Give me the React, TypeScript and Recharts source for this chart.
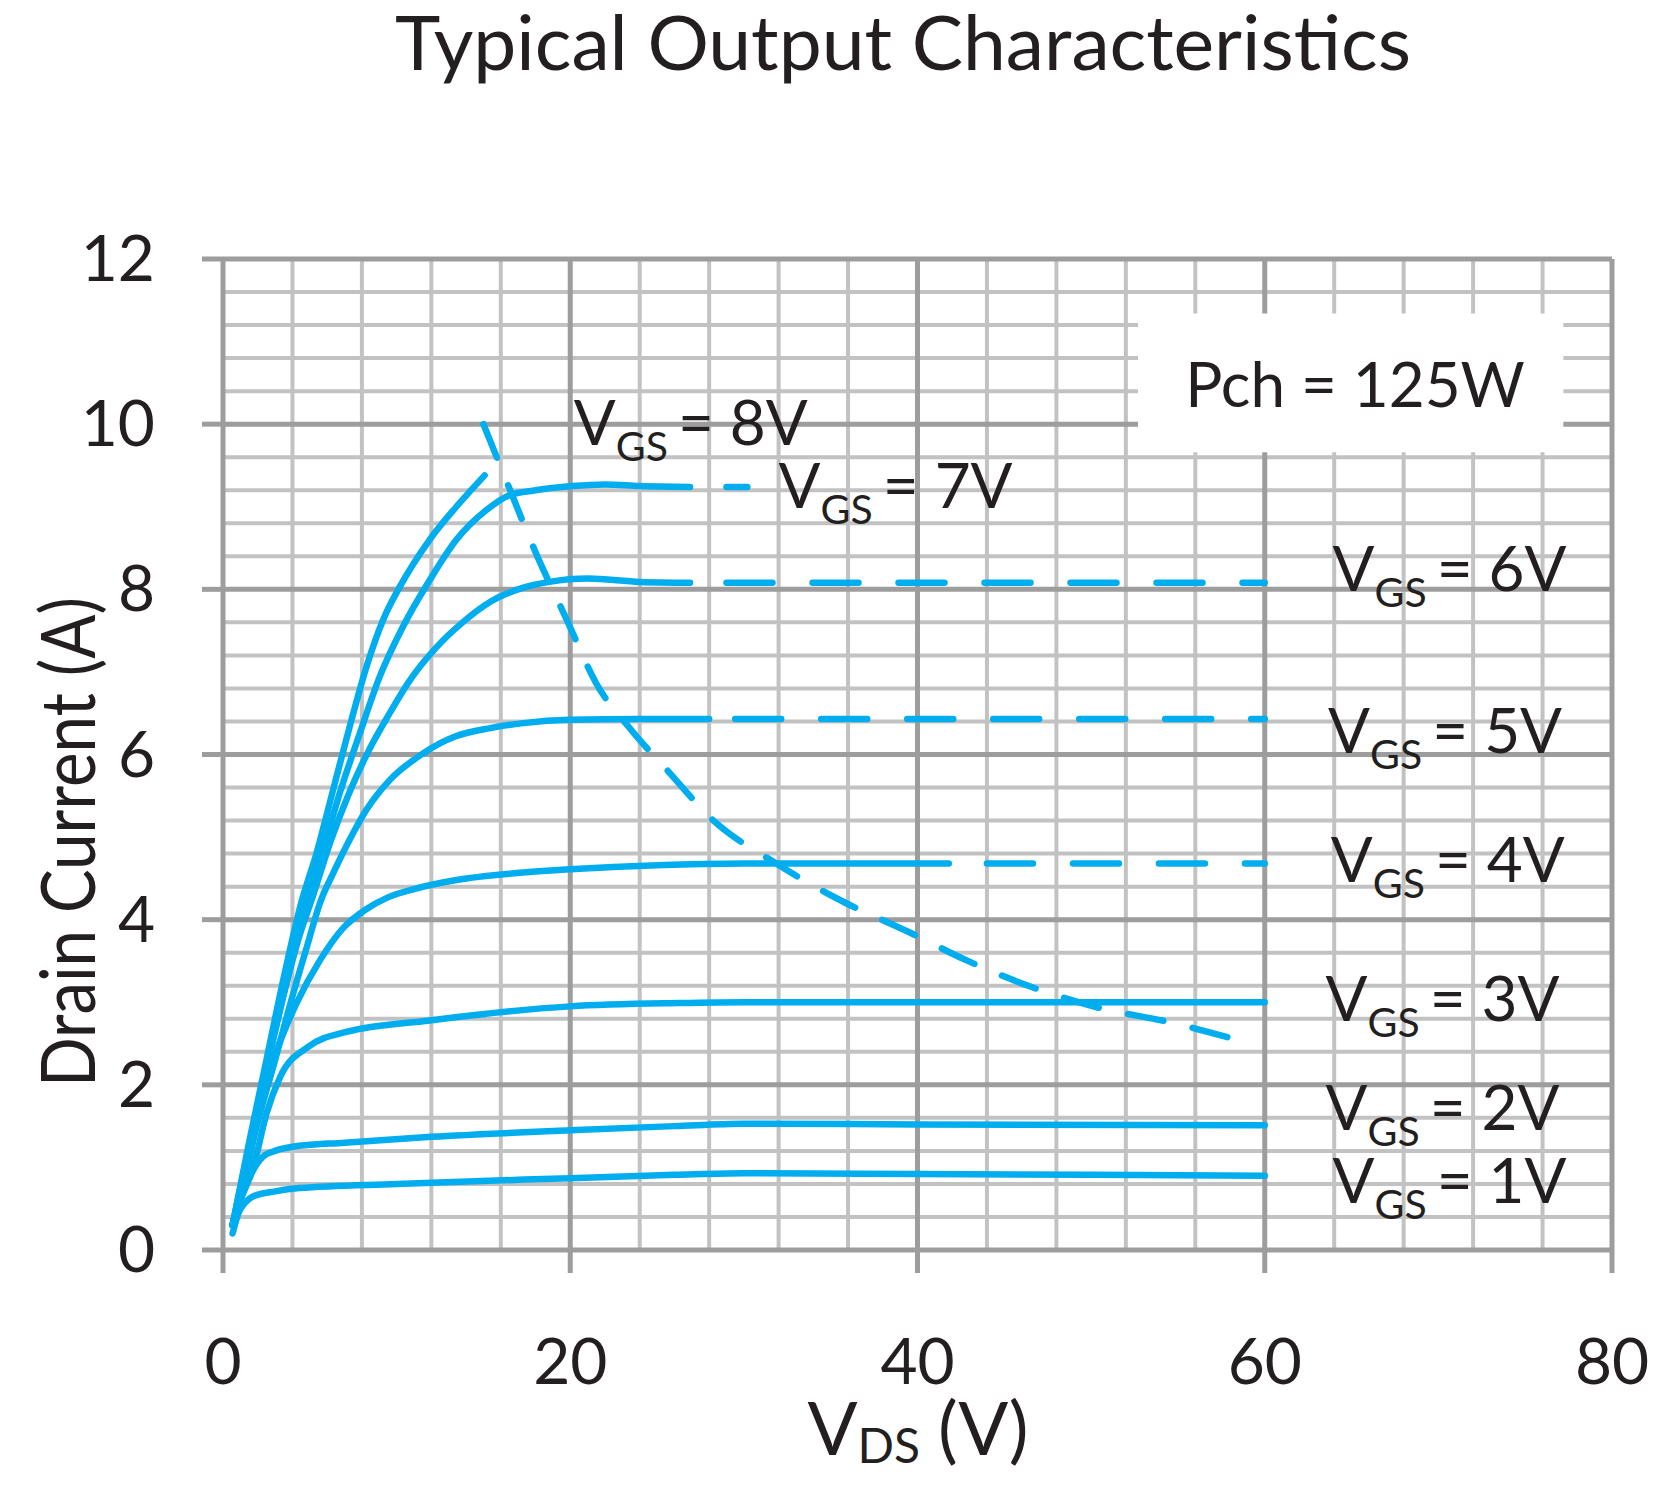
import React from 'react';
import { LineChart, Line, XAxis, YAxis, CartesianGrid, ReferenceArea, ReferenceDot } from 'recharts';

const W = 1674;
const H = 1486;
const FONT = 'Lato, "Open Sans", sans-serif';
const INK = '#231f20';
const CURVE = '#00aeef';
const MAJOR = '#9d9d9d';
const MINOR = '#c2c2c2';

// axis ticks and grid
const xTicks = [0, 20, 40, 60, 80];
const yTicks = [0, 2, 4, 6, 8, 10, 12];
const xMinor = [4, 8, 12, 16, 24, 28, 32, 36, 44, 48, 52, 56, 64, 68, 72, 76];
const yMinor = [
  0.4, 0.8, 1.2, 1.6, 2.4, 2.8, 3.2, 3.6, 4.4, 4.8, 5.2, 5.6,
  6.4, 6.8, 7.2, 7.6, 8.4, 8.8, 9.2, 9.6, 10.4, 10.8, 11.2, 11.6,
];

// [VDS (V), ID (A)] per gate voltage
const vgs1 = [[0.55, 0.2], [0.9, 0.45], [1.3, 0.58], [1.75, 0.65], [3, 0.71], [4.4, 0.75], [10, 0.8], [20, 0.87], [26, 0.91], [30, 0.93], [40, 0.92], [50, 0.91], [60, 0.9]];
const vgs2 = [[0.55, 0.3], [1.0, 0.6], [1.55, 0.89], [2.3, 1.13], [3, 1.2], [4, 1.25], [7, 1.3], [12, 1.37], [20, 1.45], [26, 1.5], [30, 1.53], [40, 1.52], [60, 1.51]];
const vgs3 = [[0.55, 0.3], [1.0, 0.6], [1.75, 1.0], [2.5, 1.65], [3.3, 2.1], [4.9, 2.46], [7.1, 2.64], [11.9, 2.78], [20, 2.95], [26.3, 2.99], [30, 3.0], [60, 3.0]];
const vgs4 = [[0.55, 0.3], [1.2, 0.8], [1.8, 1.4], [2.32, 1.98], [3.09, 2.42], [4.24, 2.99], [5.59, 3.51], [6.93, 3.9], [8.2, 4.12], [9.5, 4.27], [11, 4.37], [13.44, 4.48], [17.3, 4.57], [20, 4.61], [25, 4.66], [30, 4.68], [41.8, 4.68]];
const vgs5 = [[0.55, 0.3], [1.2, 0.85], [2.0, 1.55], [3.0, 2.3], [3.9, 3.0], [4.8, 3.65], [5.65, 4.24], [6.34, 4.56], [7.3, 4.97], [8.26, 5.33], [9.6, 5.69], [11.5, 6.01], [13.4, 6.22], [15.4, 6.32], [17.3, 6.38], [20, 6.42], [24, 6.43], [28, 6.43]];
const vgs6 = [[0.55, 0.3], [1.5, 1.25], [2.5, 2.2], [3.5, 3.1], [4.4, 3.8], [5.2, 4.3], [6.2, 4.95], [7.2, 5.5], [8.4, 6.05], [9.6, 6.5], [10.7, 6.88], [12.3, 7.3], [13.8, 7.6], [15.4, 7.85], [17.3, 8.02], [18.8, 8.09], [21, 8.13], [24, 8.09], [26.9, 8.08]];
const vgs7 = [[0.55, 0.3], [1.5, 1.25], [2.5, 2.2], [3.5, 3.1], [4.7, 4.1], [5.76, 4.84], [6.72, 5.53], [7.87, 6.25], [9.02, 6.94], [10.37, 7.55], [11.9, 8.11], [13.44, 8.6], [15.17, 8.96], [16.5, 9.14], [18, 9.2], [20.1, 9.25], [22, 9.27], [24, 9.25], [26.9, 9.24]];
const vgs8 = [[0.55, 0.3], [1.5, 1.3], [2.5, 2.3], [3.5, 3.3], [4.5, 4.2], [5.38, 4.8], [6.34, 5.57], [7.3, 6.34], [8.26, 7.06], [9.22, 7.63], [10.18, 8.03], [11.9, 8.6], [13.44, 9.0], [15.07, 9.38]];

// dashed continuations past the solid part
const vgs7Tail = [[29.0, 9.24], [30.2, 9.24]];
const vgs6Tail = [[29.0, 8.08], [60, 8.08]];
const vgs5Tail = [[29.5, 6.43], [60, 6.43]];
const vgs4Tail = [[44, 4.68], [60, 4.68]];

// channel dissipation limit, Pch = 125 W
const pchLimit = [[15.0, 10.0], [16.5, 9.22], [18.0, 8.45], [19.8, 7.63], [21.5, 6.86], [23.5, 6.3], [25.5, 5.83], [28.3, 5.19], [31.7, 4.7], [35.7, 4.22], [39.4, 3.86], [42.8, 3.51], [46.5, 3.19], [50.5, 2.93], [54.5, 2.76], [58.5, 2.54]];

const gateVolts = [8, 7, 6, 5, 4, 3, 2, 1];

// where each V_GS tag sits (left edge / baseline, in axis units)
const tagAnchors: Record<number, [number, number]> = {
  8: [20.2, 9.75],
  7: [32.0, 8.98],
  6: [63.9, 7.98],
  5: [63.65, 6.02],
  4: [63.8, 4.46],
  3: [63.5, 2.77],
  2: [63.5, 1.45],
  1: [63.9, 0.57],
};

const toPts = (rows: number[][]) => rows.map(([vds, id]) => ({ vds, id }));

const solidCurves = [vgs1, vgs2, vgs3, vgs4, vgs5, vgs6, vgs7, vgs8];
const dashedTails = [vgs7Tail, vgs6Tail, vgs5Tail, vgs4Tail];

const XTick = (props: any) => (
  <text x={props.x} y={1384} textAnchor="middle" fontFamily={FONT} fontSize={64} fill={INK}>
    {props.payload.value}
  </text>
);

const YTick = (props: any) => (
  <text x={155} y={props.y} dy={22} textAnchor="end" fontFamily={FONT} fontSize={64} fill={INK}>
    {props.payload.value}
  </text>
);

const VgsTag = ({ cx, cy, volts }: any) => (
  <text x={cx} y={cy} fontFamily={FONT} fontSize={62} fill={INK}>
    V
    <tspan fontSize={41} dy={16}>GS</tspan>
    <tspan dy={-16} dx={10}>= {volts}V</tspan>
  </text>
);

const PchTag = ({ cx, cy }: any) => (
  <text x={cx} y={cy} textAnchor="middle" fontFamily={FONT} fontSize={62} fill={INK}>
    Pch = 125W
  </text>
);

export default function App() {
  return (
    <div style={{ position: 'absolute', left: 0, top: 0, width: W, height: H, background: '#fff' }}>
      <LineChart width={W} height={H} margin={{ top: 259, right: 62, bottom: 206, left: 163 }}>
        <CartesianGrid
          horizontalValues={yMinor}
          verticalValues={xMinor}
          stroke={MINOR}
          strokeWidth={4}
        />
        <CartesianGrid
          horizontalValues={yTicks.slice(1)}
          verticalValues={xTicks.slice(1)}
          stroke={MAJOR}
          strokeWidth={5}
        />
        <ReferenceArea x1={52.7} x2={77.2} y1={9.66} y2={11.34} fill="#fff" fillOpacity={1} stroke="none" />
        <XAxis
          type="number"
          dataKey="vds"
          domain={[0, 80]}
          ticks={xTicks}
          height={30}
          axisLine={{ stroke: MAJOR, strokeWidth: 5 }}
          tickLine={{ stroke: MAJOR, strokeWidth: 5 }}
          tickSize={23}
          tickMargin={0}
          tick={<XTick />}
          allowDataOverflow
        />
        <YAxis
          type="number"
          domain={[0, 12]}
          ticks={yTicks}
          width={60}
          axisLine={{ stroke: MAJOR, strokeWidth: 5 }}
          tickLine={{ stroke: MAJOR, strokeWidth: 5 }}
          tickSize={21}
          tickMargin={0}
          tick={<YTick />}
          allowDataOverflow
        />
        {solidCurves.map((rows, i) => (
          <Line
            key={'c' + i}
            data={toPts(rows)}
            dataKey="id"
            type="monotone"
            stroke={CURVE}
            strokeWidth={6.5}
            strokeLinecap="round"
            dot={false}
            activeDot={false}
            isAnimationActive={false}
          />
        ))}
        {dashedTails.map((rows, i) => (
          <Line
            key={'t' + i}
            data={toPts(rows)}
            dataKey="id"
            type="linear"
            stroke={CURVE}
            strokeWidth={6.5}
            strokeLinecap="round"
            strokeDasharray="46 40"
            dot={false}
            activeDot={false}
            isAnimationActive={false}
          />
        ))}
        <Line
          data={toPts(pchLimit)}
          dataKey="id"
          type="monotone"
          stroke={CURVE}
          strokeWidth={6.5}
          strokeLinecap="round"
          strokeDasharray="36 30"
          dot={false}
          activeDot={false}
          isAnimationActive={false}
        />
        {gateVolts.map((v) => (
          <ReferenceDot
            key={'g' + v}
            x={tagAnchors[v][0]}
            y={tagAnchors[v][1]}
            r={0}
            ifOverflow="visible"
            shape={(p: any) => <VgsTag cx={p.cx} cy={p.cy} volts={v} />}
          />
        ))}
        <ReferenceDot x={65.2} y={10.21} r={0} ifOverflow="visible" shape={(p: any) => <PchTag cx={p.cx} cy={p.cy} />} />
      </LineChart>
      <svg width={W} height={H} style={{ position: 'absolute', left: 0, top: 0, pointerEvents: 'none' }}>
        <text x={903} y={70} textAnchor="middle" fontFamily={FONT} fontSize={75} fill={INK} textLength={1016} lengthAdjust="spacingAndGlyphs">
          Typical Output Characteristics
        </text>
        <text x={918} y={1455} textAnchor="middle" fontFamily={FONT} fontSize={74} fill={INK}>
          V
          <tspan fontSize={48} dy={8}>DS</tspan>
          <tspan dy={-8} dx={18}>(V)</tspan>
        </text>
        <text transform="translate(95,842) rotate(-90)" textAnchor="middle" fontFamily={FONT} fontSize={76} fill={INK} textLength={490} lengthAdjust="spacingAndGlyphs">
          Drain Current (A)
        </text>
      </svg>
    </div>
  );
}
